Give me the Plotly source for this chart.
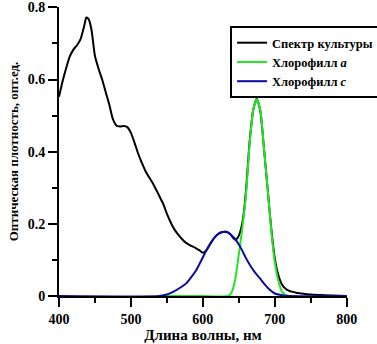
import plotly.graph_objects as go

# Culture spectrum
wl_culture = [400, 405, 410, 415, 420, 425, 430, 435, 438, 441, 445, 450, 455, 460, 465, 470,
              475, 480, 485, 490, 495, 500, 505, 510, 515, 520, 525, 530, 535, 540, 545, 550,
              555, 560, 565, 570, 575, 580, 585, 590, 595, 600, 605, 612, 619, 625, 632, 638,
              644, 648, 652, 656, 660, 665, 670, 675, 680, 685, 690, 695, 700, 705, 710, 715,
              720, 730, 740, 750, 770, 800]
od_culture = [0.552, 0.595, 0.632, 0.664, 0.683, 0.695, 0.712, 0.748, 0.772, 0.768, 0.740, 0.665,
              0.630, 0.600, 0.565, 0.530, 0.490, 0.472, 0.470, 0.471, 0.468, 0.452, 0.425, 0.395,
              0.370, 0.347, 0.330, 0.314, 0.295, 0.275, 0.255, 0.228, 0.205, 0.186, 0.172, 0.160,
              0.150, 0.143, 0.138, 0.133, 0.127, 0.120, 0.127, 0.150, 0.168, 0.176, 0.178, 0.172,
              0.157, 0.160, 0.178, 0.215, 0.290, 0.425, 0.515, 0.547, 0.512, 0.410, 0.300, 0.190,
              0.105, 0.058, 0.032, 0.020, 0.014, 0.009, 0.006, 0.004, 0.002, 0.0]

# Chlorophyll a
wl_chl_a = [545, 600, 635, 640, 645, 650, 655, 660, 665, 670, 675, 680, 685, 690, 695, 700,
            705, 710, 715, 720]
od_chl_a = [0.0, 0.0, 0.0, 0.01, 0.045, 0.115, 0.19, 0.28, 0.42, 0.515, 0.545, 0.515, 0.41,
            0.30, 0.185, 0.095, 0.042, 0.012, 0.003, 0.0]

# Chlorophyll c
wl_chl_c = [400, 540, 550, 560, 570, 577, 585, 591, 597, 605, 612, 619, 625, 632, 638, 644,
            649, 655, 660, 667, 673, 679, 686, 693, 700, 710, 720, 800]
od_chl_c = [0.0, 0.0, 0.004, 0.013, 0.025, 0.035, 0.055, 0.072, 0.095, 0.127, 0.150, 0.168,
            0.176, 0.178, 0.172, 0.160, 0.146, 0.125, 0.105, 0.081, 0.064, 0.050, 0.032, 0.017,
            0.007, 0.002, 0.0, 0.0]

x_ticks = [400, 500, 600, 700, 800]
y_ticks = [0, 0.2, 0.4, 0.6, 0.8]
y_ticktext = ["0", "0.2", "0.4", "0.6", "0.8"]

names = ["Спектр культуры", "Хлорофилл <i>a</i>", "Хлорофилл <i>c</i>"]
colors = ["#000000", "#22e622", "#0a0aa0"]

SERIF = "Liberation Serif"

fig = go.Figure()
for wl, od, name, color in [(wl_culture, od_culture, names[0], colors[0]),
                            (wl_chl_a, od_chl_a, names[1], colors[1]),
                            (wl_chl_c, od_chl_c, names[2], colors[2])]:
    fig.add_trace(go.Scatter(x=wl, y=od, mode="lines", name=name,
                             line=dict(color=color, width=2, shape="spline", smoothing=0.6)))

axis_common = dict(showline=True, linewidth=2, linecolor="black", showgrid=False,
                   zeroline=False, ticks="outside", ticklen=9, tickwidth=2, tickcolor="black",
                   tickfont=dict(family=SERIF, size=14, color="black", weight="bold"))

fig.update_xaxes(range=[400, 800.5], tickvals=x_ticks,
                 minor=dict(ticks="outside", ticklen=5, tickwidth=2, tickcolor="black", dtick=50, tick0=400),
                 title=dict(text="Длина волны, нм", standoff=4,
                            font=dict(family=SERIF, size=15, color="black", weight="bold")),
                 **axis_common)
fig.update_yaxes(range=[0, 0.801], tickvals=y_ticks, ticktext=y_ticktext,
                 minor=dict(ticks="outside", ticklen=5, tickwidth=2, tickcolor="black", dtick=0.1, tick0=0),
                 title=dict(text="Оптическая плотность, опт.ед.", standoff=6,
                            font=dict(family=SERIF, size=13, color="black", weight="bold")),
                 **axis_common)

fig.update_layout(
    width=377, height=344,
    margin=dict(l=59, r=30, t=7, b=48, autoexpand=False),
    paper_bgcolor="white", plot_bgcolor="white",
    showlegend=True,
    legend=dict(x=0.594, y=0.934, xanchor="left", yanchor="top",
                bgcolor="white", bordercolor="black", borderwidth=2,
                font=dict(family=SERIF, size=12.5, color="black", weight="bold"),
                tracegroupgap=0, itemwidth=30),
)

fig.write_html("out.html")
